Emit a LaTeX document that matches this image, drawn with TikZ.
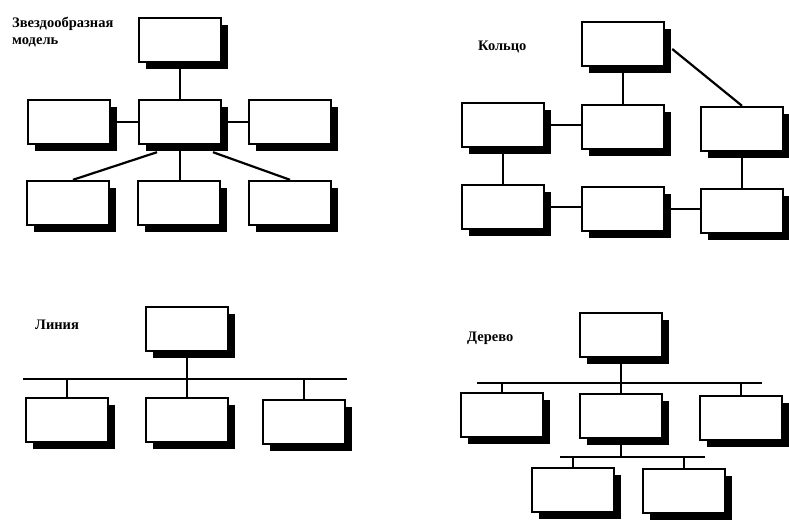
\documentclass[tikz,border=0pt]{standalone}
\usepackage{fontspec}
\setmainfont{Liberation Serif}
\usepackage{tikz}
\usetikzlibrary{shadows, calc}
\tikzset{
    unit/.style={draw=black, fill=white, line width=2.4pt, rectangle,
          minimum width=82pt, minimum height=44pt,
          drop shadow={shadow xshift=7pt, shadow yshift=-7pt, fill=black, opacity=1}},
    wire/.style={line width=2.2pt},
    title/.style={font=\fontsize{14.5}{17}\selectfont\bfseries, align=left, inner sep=0pt}
}

\begin{document}
\begin{tikzpicture}[x=1pt, y=-1pt]
    \useasboundingbox (0,0) rectangle (789,522);

    % Star
    \node[title, anchor=north west] (starlbl) at (12,17) {Звездообразная\\модель};
    \node[unit] (st) at (180,40) {};
    \node[unit] (sc) at (180,122) {};
    \node[unit] (sl) at (69,122) {};
    \node[unit] (sr) at (290,122) {};
    \node[unit] (sbl) at (68,203) {};
    \node[unit] (sbm) at (179,203) {};
    \node[unit] (sbr) at (290,203) {};
    \draw[wire] (st.south) -- (sc.north);
    \draw[wire] (sl.east) -- (sc.west);
    \draw[wire] (sc.east) -- (sr.west);
    \draw[wire] (sc.south) -- (sc.south |- sbm.north);
    \draw[wire] ([xshift=-23pt, yshift=-7pt]sc.south) -- ([xshift=5pt]sbl.north);
    \draw[wire] ([xshift=33pt, yshift=-7pt]sc.south) -- (sbr.north);

    % Ring
    \node[title, anchor=west] (ringlbl) at (478,47) {Кольцо};
    \node[unit] (rt) at (623,44) {};
    \node[unit] (rml) at (503,125) {};
    \node[unit] (rmc) at (623,127) {};
    \node[unit] (rmr) at (742,129) {};
    \node[unit] (rbl) at (503,207) {};
    \node[unit] (rbc) at (623,209) {};
    \node[unit] (rbr) at (742,211) {};
    \draw[wire] (rt.south) -- (rt.south |- rmc.north);
    \draw[wire] ([xshift=7pt, yshift=-5pt]rt.east) -- (rmr.north);
    \draw[wire] (rml.east) -- (rml.east -| rmc.west);
    \draw[wire] (rml.south) -- (rml.south |- rbl.north);
    \draw[wire] (rmr.south) -- (rmr.south |- rbr.north);
    \draw[wire] (rbl.east) -- (rbl.east -| rbc.west);
    \draw[wire] (rbc.east) -- (rbc.east -| rbr.west);

    % Line
    \node[title, anchor=west] (linelbl) at (35,325) {Линия};
    \node[unit] (lt) at (187,329) {};
    \node[unit] (lbl) at (67,420) {};
    \node[unit] (lbc) at (187,420) {};
    \node[unit] (lbr) at (304,422) {};
    \coordinate (lbusw) at (23,379);
    \coordinate (lbuse) at (347,379);
    \draw[wire] (lbusw) -- (lbuse);
    \draw[wire] (lt.south) -- (lbc.north);
    \draw[wire] (lbl.north) -- (lbl.north |- lbusw);
    \draw[wire] (lbr.north) -- (lbr.north |- lbusw);

    % Tree
    \node[title, anchor=west] (treelbl) at (467,338) {Дерево};
    \node[unit] (tt) at (621,335) {};
    \node[unit] (tml) at (502,415) {};
    \node[unit] (tmc) at (621,416) {};
    \node[unit] (tmr) at (741,418) {};
    \node[unit] (tbl) at (573,490) {};
    \node[unit] (tbr) at (684,491) {};
    \coordinate (tbusw) at (477,383);
    \coordinate (tbuse) at (762,383);
    \coordinate (tsubw) at (560,457);
    \coordinate (tsube) at (705,457);
    \draw[wire] (tbusw) -- (tbuse);
    \draw[wire] (tt.south) -- (tmc.north);
    \draw[wire] (tml.north) -- (tml.north |- tbusw);
    \draw[wire] (tmr.north) -- (tmr.north |- tbusw);
    \draw[wire] (tsubw) -- (tsube);
    \draw[wire] (tmc.south) -- (tmc.south |- tsubw);
    \draw[wire] (tbl.north) -- (tbl.north |- tsubw);
    \draw[wire] (tbr.north) -- (tbr.north |- tsubw);
\end{tikzpicture}
\end{document}
